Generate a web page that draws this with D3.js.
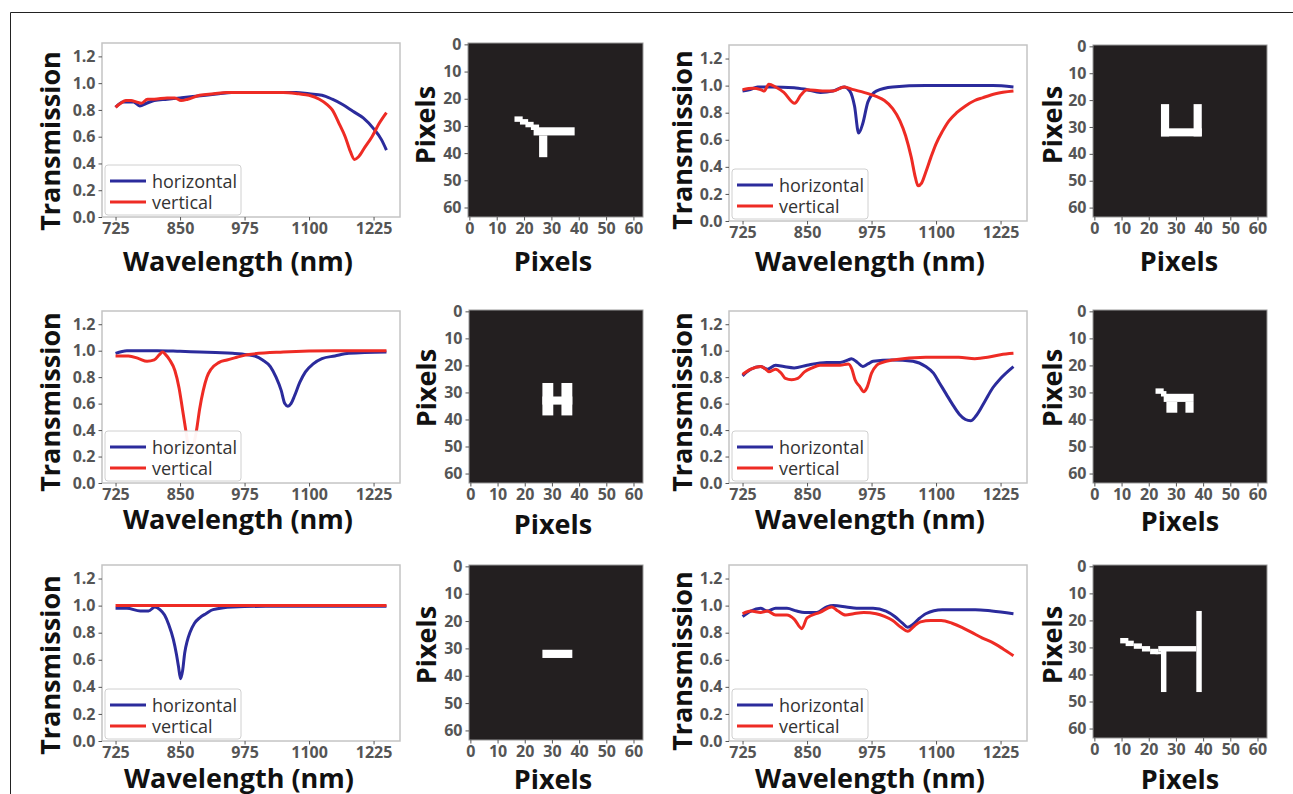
<!DOCTYPE html>
<html><head><meta charset="utf-8">
<script src="https://cdn.jsdelivr.net/npm/d3@7"></script>
<style>body{margin:0;background:#fff;} svg{display:block;}</style>
</head><body><svg id="c" width="1293" height="794"></svg>
<script>
// ---------- data ----------
const wavelengthTicks = [725, 850, 975, 1100, 1225];
const transmissionTicks = [0, 0.2, 0.4, 0.6, 0.8, 1.0, 1.2];
const pixelTicks = [0, 10, 20, 30, 40, 50, 60];
const legendLabels = ["horizontal", "vertical"];

// spectra: [wavelength (nm), transmission]
const s1Horizontal = [[725,0.82],[740,0.86],[760,0.86],[772,0.83],[785,0.85],[800,0.87],[825,0.88],[850,0.89],[875,0.90],[900,0.91],[925,0.92],[950,0.93],[1000,0.93],[1050,0.93],[1075,0.93],[1100,0.92],[1125,0.91],[1145,0.88],[1165,0.84],[1185,0.79],[1205,0.74],[1225,0.66],[1240,0.58],[1250,0.50]];
const s1Vertical = [[725,0.82],[735,0.85],[745,0.87],[755,0.87],[765,0.86],[775,0.85],[787,0.88],[800,0.88],[825,0.89],[840,0.89],[852,0.87],[865,0.88],[888,0.91],[915,0.92],[940,0.93],[1000,0.93],[1050,0.93],[1080,0.92],[1100,0.91],[1120,0.88],[1135,0.84],[1145,0.80],[1158,0.70],[1170,0.60],[1180,0.49],[1188,0.43],[1196,0.45],[1208,0.52],[1222,0.60],[1236,0.70],[1250,0.78]];

const s2Horizontal = [[725,0.96],[740,0.97],[754,0.99],[780,0.99],[825,0.985],[850,0.97],[876,0.95],[900,0.96],[922,0.99],[933,0.96],[942,0.85],[950,0.65],[958,0.72],[968,0.88],[984,0.96],[1016,0.99],[1080,1.0],[1210,1.0],[1250,0.99]];
const s2Vertical = [[725,0.97],[745,0.98],[760,0.97],[767,0.96],[776,1.01],[789,0.99],[805,0.95],[826,0.87],[838,0.93],[850,0.97],[880,0.96],[900,0.96],[922,0.99],[940,0.97],[960,0.95],[984,0.92],[1000,0.89],[1016,0.83],[1030,0.74],[1041,0.63],[1052,0.47],[1060,0.32],[1065,0.26],[1072,0.28],[1080,0.36],[1090,0.47],[1100,0.57],[1112,0.66],[1125,0.74],[1140,0.80],[1157,0.85],[1175,0.89],[1190,0.91],[1215,0.94],[1250,0.96]];

const s3Horizontal = [[725,0.98],[747,1.0],[805,1.0],[850,0.995],[888,0.99],[930,0.985],[952,0.98],[980,0.97],[995,0.96],[1010,0.93],[1025,0.88],[1036,0.80],[1046,0.70],[1053,0.60],[1059,0.58],[1065,0.60],[1072,0.66],[1082,0.76],[1093,0.84],[1108,0.90],[1125,0.94],[1150,0.96],[1177,0.98],[1250,0.99]];
const s3Vertical = [[725,0.96],[750,0.96],[770,0.94],[786,0.92],[800,0.93],[810,0.97],[816,0.99],[822,0.97],[830,0.93],[840,0.85],[848,0.72],[855,0.55],[861,0.40],[866,0.28],[871,0.20],[876,0.28],[882,0.40],[888,0.56],[895,0.70],[902,0.80],[910,0.86],[925,0.91],[941,0.93],[960,0.95],[980,0.97],[1050,0.99],[1150,1.0],[1250,1.0]];

const s4Horizontal = [[725,0.81],[741,0.86],[760,0.88],[773,0.86],[789,0.89],[805,0.88],[825,0.87],[850,0.89],[888,0.91],[914,0.91],[930,0.93],[936,0.94],[948,0.91],[958,0.88],[968,0.90],[978,0.92],[1016,0.93],[1055,0.92],[1080,0.88],[1095,0.83],[1106,0.76],[1120,0.67],[1131,0.60],[1145,0.52],[1157,0.48],[1167,0.47],[1178,0.51],[1195,0.62],[1210,0.72],[1225,0.79],[1250,0.88]];
const s4Vertical = [[725,0.82],[741,0.86],[760,0.88],[770,0.86],[776,0.84],[789,0.86],[800,0.83],[808,0.79],[820,0.78],[832,0.79],[845,0.84],[860,0.87],[875,0.89],[914,0.89],[930,0.90],[937,0.86],[943,0.78],[952,0.73],[960,0.69],[966,0.72],[975,0.83],[985,0.89],[995,0.91],[1016,0.93],[1080,0.95],[1144,0.95],[1175,0.94],[1200,0.95],[1225,0.97],[1250,0.98]];

const s5Horizontal = [[725,0.98],[747,0.98],[773,0.96],[789,0.96],[801,0.99],[811,0.97],[820,0.93],[828,0.86],[837,0.75],[843,0.64],[847,0.55],[851,0.46],[855,0.52],[859,0.65],[864,0.74],[869,0.80],[878,0.87],[888,0.91],[900,0.94],[914,0.97],[952,0.99],[1016,0.995],[1250,0.995]];
const s5Vertical = [[725,1.0],[850,1.0],[975,1.0],[1100,1.0],[1250,1.0]];

const s6Horizontal = [[725,0.92],[741,0.96],[760,0.98],[773,0.96],[789,0.98],[811,0.98],[830,0.96],[845,0.95],[869,0.95],[888,0.99],[901,1.0],[926,0.99],[946,0.98],[978,0.98],[1003,0.96],[1020,0.92],[1035,0.87],[1045,0.84],[1055,0.86],[1066,0.90],[1080,0.94],[1112,0.97],[1150,0.97],[1176,0.97],[1208,0.96],[1250,0.94]];
const s6Vertical = [[725,0.94],[741,0.96],[760,0.95],[773,0.96],[789,0.93],[811,0.93],[825,0.90],[840,0.83],[850,0.91],[875,0.95],[898,0.99],[910,0.96],[925,0.93],[940,0.94],[960,0.95],[984,0.94],[1000,0.92],[1016,0.89],[1032,0.84],[1045,0.81],[1058,0.85],[1070,0.88],[1090,0.89],[1110,0.89],[1131,0.87],[1150,0.84],[1170,0.80],[1190,0.76],[1208,0.73],[1230,0.68],[1250,0.63]];

// 64x64 binary images: white blocks [col, row, width, height]
const shape1 = [[24,31,15,3],[26,34,3,8],[17,27,3,2],[19,28,3,2],[21,29,3,2],[23,30,3,2]];
const shape2 = [[25,22,3,12],[37,22,3,12],[25,31,15,3]];
const shape3 = [[27,27,4,12],[34,27,4,12],[27,32,11,3]];
const shape4 = [[26,31,11,3],[27,34,4,4],[34,34,3,4],[23,29,3,2],[25,30,2,2]];
const shape5 = [[27,31,11,3]];
const shape6 = [[38,17,2,30],[24,30,14,2],[25,31,2,16],[10,27,3,2],[12,28,3,2],[15,29,3,2],[18,30,3,2],[21,31,3,2],[23,32,2,1]];

// ---------- layout ----------
const spectra = [
  {box:[102,43,400,217], h:s1Horizontal, v:s1Vertical, ylab:[49,141], xlab:[238,260]},
  {box:[729,45,1027,221], h:s2Horizontal, v:s2Vertical, ylab:[681,140], xlab:[870,260]},
  {box:[102,311,400,483], h:s3Horizontal, v:s3Vertical, ylab:[49,402], xlab:[238,518]},
  {box:[729,311,1027,483], h:s4Horizontal, v:s4Vertical, ylab:[681,402], xlab:[870,518]},
  {box:[102,565,400,741], h:s5Horizontal, v:s5Vertical, ylab:[49,665], xlab:[239,777]},
  {box:[729,565,1027,741], h:s6Horizontal, v:s6Vertical, ylab:[681,661], xlab:[870,777]}
];
const images = [
  {box:[468,43,643,217], shape:shape1, ylab:[424,125], xlab:[553,260]},
  {box:[1093,45,1267,217], shape:shape2, ylab:[1051,125], xlab:[1179,260]},
  {box:[469,310,643,483], shape:shape3, ylab:[425,388], xlab:[553,523]},
  {box:[1093,310,1267,483], shape:shape4, ylab:[1051,388], xlab:[1180,520]},
  {box:[469,565,643,740], shape:shape5, ylab:[425,645], xlab:[553,778]},
  {box:[1093,565,1267,738], shape:shape6, ylab:[1051,645], xlab:[1180,778]}
];

const BLUE = "#2b2b9c", RED = "#ee2b24";
const FONT = "'Open Sans', 'DejaVu Sans', sans-serif";
const TICKCOL = "#555";
const svg = d3.select("#c");

// outer frame
svg.append("path").attr("d","M10.5,794 V12.5 H1293").attr("fill","none").attr("stroke","#222").attr("stroke-width",1);

function styleAxis(g){
  g.select(".domain").remove();
  g.selectAll(".tick line").attr("stroke",TICKCOL).attr("stroke-width",1);
  g.selectAll(".tick text").attr("fill",TICKCOL).style("font-family",FONT).style("font-size","16px").style("font-weight","700");
}
function bigLabel(x,y,txt,rot){
  const t = svg.append("text").attr("x",x).attr("y",y).attr("text-anchor","middle").attr("dominant-baseline","central")
    .style("font-family",FONT).style("font-weight","700").style("font-size","27px").attr("fill","#111").text(txt);
  if(rot) t.attr("transform",`rotate(-90,${x},${y})`);
}

spectra.forEach(c=>{
  const [x0,y0,x1,y1] = c.box;
  const x = d3.scaleLinear().domain([698.75,1276.25]).range([x0,x1]);
  const y = d3.scaleLinear().domain([0,1.3]).range([y1,y0]);
  const g = svg.append("g");
  const line = d3.line().x(d=>x(d[0])).y(d=>y(d[1])).curve(d3.curveMonotoneX);
  g.append("path").datum(c.h).attr("d",line).attr("fill","none").attr("stroke",BLUE).attr("stroke-width",3).attr("stroke-linejoin","round");
  g.append("path").datum(c.v).attr("d",line).attr("fill","none").attr("stroke",RED).attr("stroke-width",3).attr("stroke-linejoin","round");
  // frame
  g.append("rect").attr("x",x0).attr("y",y0).attr("width",x1-x0).attr("height",y1-y0).attr("fill","none").attr("stroke","#c4c4c4").attr("stroke-width",1.5);
  const ax = g.append("g").attr("transform",`translate(0,${y1})`).call(d3.axisBottom(x).tickValues(wavelengthTicks).tickFormat(d3.format("d")).tickSize(3.5).tickPadding(2));
  styleAxis(ax);
  const ay = g.append("g").attr("transform",`translate(${x0},0)`).call(d3.axisLeft(y).tickValues(transmissionTicks).tickFormat(d3.format(".1f")).tickSize(3.5).tickPadding(3));
  styleAxis(ay);
  // legend
  const lg = g.append("g").attr("transform",`translate(${x0+3},${y1-52})`);
  lg.append("rect").attr("width",136).attr("height",50).attr("rx",3).attr("fill","#fff").attr("fill-opacity",0.95).attr("stroke","#d0d0d0").attr("stroke-width",1);
  [BLUE,RED].forEach((col,i)=>{
    const yy = 16 + i*21;
    lg.append("line").attr("x1",5).attr("x2",41).attr("y1",yy).attr("y2",yy).attr("stroke",col).attr("stroke-width",3);
    lg.append("text").attr("x",47).attr("y",yy).attr("dominant-baseline","central").style("font-family",FONT).style("font-size","18px").attr("fill","#333").text(legendLabels[i]);
  });
  bigLabel(c.ylab[0],c.ylab[1],"Transmission",true);
  bigLabel(c.xlab[0],c.xlab[1],"Wavelength (nm)",false);
});

images.forEach(c=>{
  const [x0,y0,x1,y1] = c.box;
  const x = d3.scaleLinear().domain([-0.5,63.5]).range([x0,x1]);
  const y = d3.scaleLinear().domain([-0.5,63.5]).range([y0,y1]);
  const g = svg.append("g");
  g.append("rect").attr("x",x0).attr("y",y0).attr("width",x1-x0).attr("height",y1-y0).attr("fill","#231f20");
  g.selectAll("rect.px").data(c.shape).join("rect").attr("class","px")
    .attr("x",d=>x(d[0]-0.5)).attr("y",d=>y(d[1]-0.5))
    .attr("width",d=>x(d[0]+d[2]-0.5)-x(d[0]-0.5)).attr("height",d=>y(d[1]+d[3]-0.5)-y(d[1]-0.5))
    .attr("fill","#fff");
  g.append("rect").attr("x",x0).attr("y",y0).attr("width",x1-x0).attr("height",y1-y0).attr("fill","none").attr("stroke","#999").attr("stroke-width",1);
  const ax = g.append("g").attr("transform",`translate(0,${y1})`).call(d3.axisBottom(x).tickValues(pixelTicks).tickSize(3.5).tickPadding(2));
  styleAxis(ax);
  const ay = g.append("g").attr("transform",`translate(${x0},0)`).call(d3.axisLeft(y).tickValues(pixelTicks).tickSize(3.5).tickPadding(3));
  styleAxis(ay);
  bigLabel(c.ylab[0],c.ylab[1],"Pixels",true);
  bigLabel(c.xlab[0],c.xlab[1],"Pixels",false);
});
</script></body></html>
